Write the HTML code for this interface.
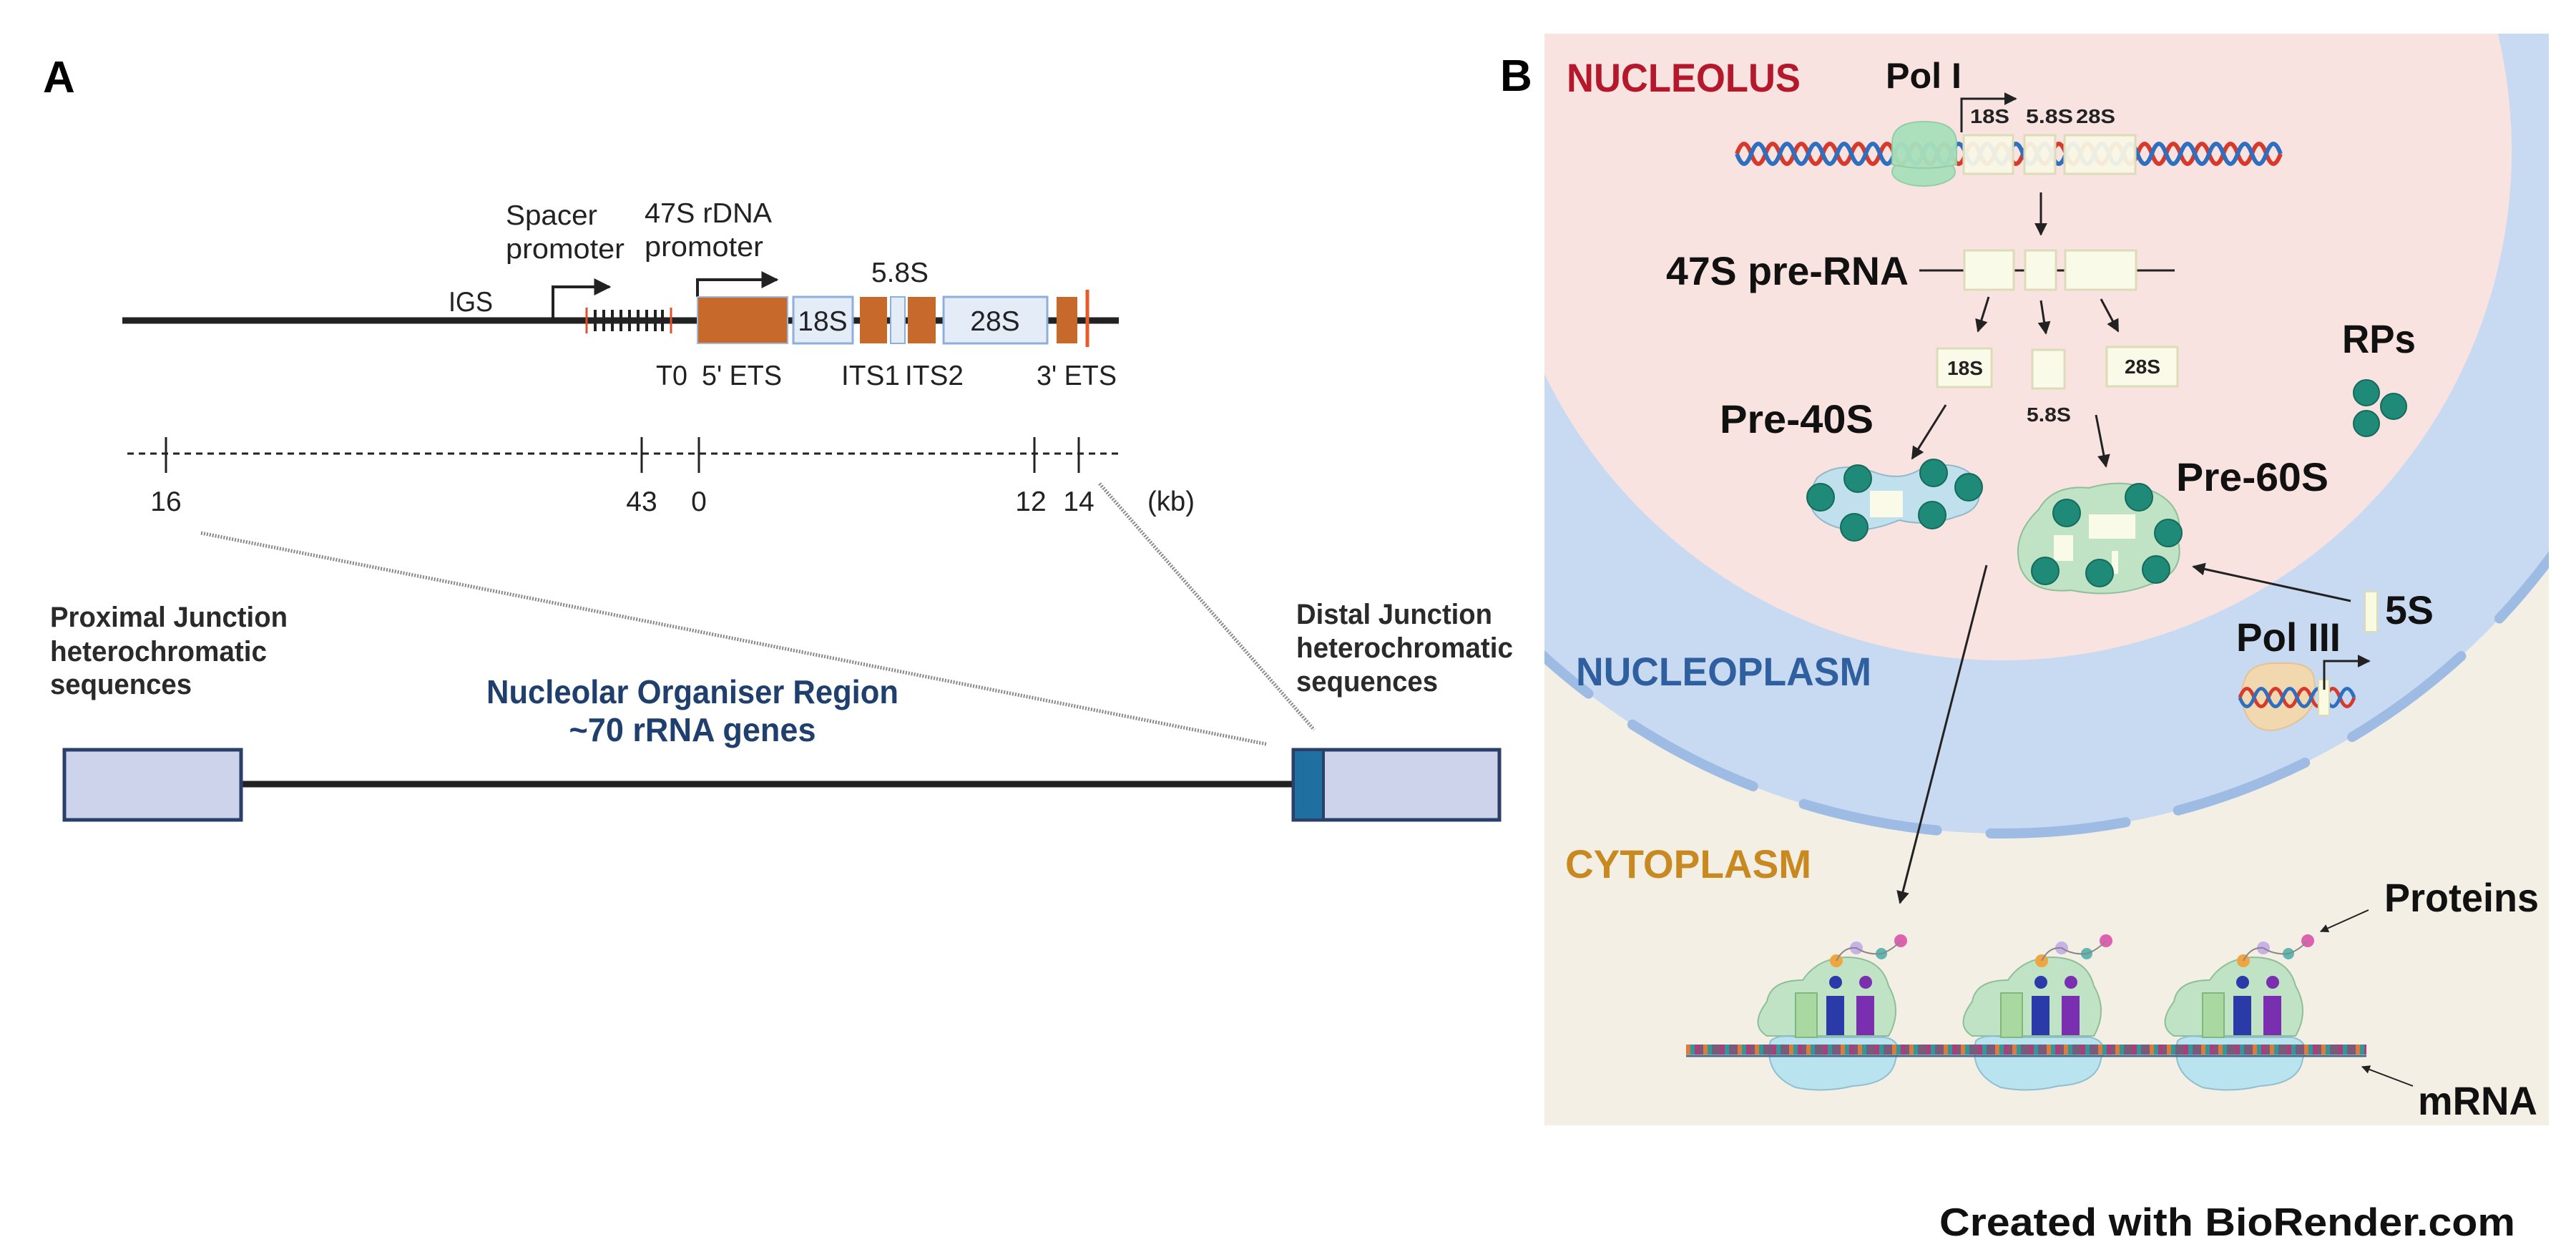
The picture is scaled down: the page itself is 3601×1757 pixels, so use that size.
<!DOCTYPE html>
<html><head><meta charset="utf-8"><style>
html,body{margin:0;padding:0;background:#fff;}
svg{display:block;}
text{font-family:"Liberation Sans",sans-serif;}
</style></head><body>
<svg width="3601" height="1757" viewBox="0 0 3601 1757" xmlns="http://www.w3.org/2000/svg">
<defs>
<marker id="ah" viewBox="0 0 10 10" refX="9" refY="5" markerWidth="6" markerHeight="6" orient="auto"><path d="M0,0 L10,5 L0,10 z" fill="#222"/></marker>
<clipPath id="pb"><rect x="2159" y="47" width="1404" height="1526"/></clipPath>
</defs>
<rect width="3601" height="1757" fill="#fff"/>

<!-- ============ PANEL A ============ -->
<text x="60" y="129" font-size="62" font-weight="bold">A</text>

<line x1="171" y1="448" x2="1564" y2="448" stroke="#222" stroke-width="9"/>
<g font-size="39" fill="#222" lengthAdjust="spacingAndGlyphs">
<text x="627" y="435" textLength="62" lengthAdjust="spacingAndGlyphs">IGS</text>
<text x="707" y="314" textLength="128" lengthAdjust="spacingAndGlyphs">Spacer</text>
<text x="707" y="361" textLength="166" lengthAdjust="spacingAndGlyphs">promoter</text>
<text x="901" y="311" textLength="178" lengthAdjust="spacingAndGlyphs">47S rDNA</text>
<text x="901" y="358" textLength="166" lengthAdjust="spacingAndGlyphs">promoter</text>
</g>
<path d="M773,448 V401 H852" fill="none" stroke="#222" stroke-width="4" marker-end="url(#ah)"/>
<g stroke="#222" stroke-width="4">
<line x1="832" y1="433" x2="832" y2="463"/><line x1="844" y1="433" x2="844" y2="463"/><line x1="856" y1="433" x2="856" y2="463"/><line x1="868" y1="433" x2="868" y2="463"/><line x1="880" y1="433" x2="880" y2="463"/><line x1="892" y1="433" x2="892" y2="463"/><line x1="904" y1="433" x2="904" y2="463"/><line x1="916" y1="433" x2="916" y2="463"/><line x1="926" y1="433" x2="926" y2="463"/>
</g>
<line x1="820" y1="430" x2="820" y2="466" stroke="#e0502a" stroke-width="3"/>
<line x1="938" y1="430" x2="938" y2="466" stroke="#e0502a" stroke-width="3"/>
<path d="M975,415 V391 H1086" fill="none" stroke="#222" stroke-width="4" marker-end="url(#ah)"/>
<rect x="975" y="415" width="126" height="65" fill="#c8692c" stroke="#9fb7dc" stroke-width="2"/>
<rect x="1109" y="415" width="83" height="65" fill="#e4ecf8" stroke="#8eaedb" stroke-width="3"/>
<text x="1150" y="462" font-size="39" fill="#222" text-anchor="middle">18S</text>
<rect x="1202" y="415" width="38" height="65" fill="#c8692c"/>
<rect x="1245" y="415" width="20" height="65" fill="#e4ecf8" stroke="#8eaedb" stroke-width="2"/>
<rect x="1269" y="415" width="39" height="65" fill="#c8692c"/>
<rect x="1319" y="415" width="145" height="65" fill="#e4ecf8" stroke="#8eaedb" stroke-width="3"/>
<text x="1391" y="462" font-size="39" fill="#222" text-anchor="middle">28S</text>
<rect x="1477" y="415" width="29" height="65" fill="#c8692c"/>
<line x1="1520" y1="405" x2="1520" y2="485" stroke="#e85a2a" stroke-width="5"/>
<g font-size="39" fill="#222">
<text x="1218" y="394" textLength="80" lengthAdjust="spacingAndGlyphs">5.8S</text>
<text x="917" y="538" textLength="44" lengthAdjust="spacingAndGlyphs">T0</text>
<text x="981" y="538" textLength="112" lengthAdjust="spacingAndGlyphs">5' ETS</text>
<text x="1176" y="538" textLength="82" lengthAdjust="spacingAndGlyphs">ITS1</text>
<text x="1265" y="538" textLength="82" lengthAdjust="spacingAndGlyphs">ITS2</text>
<text x="1449" y="538" textLength="112" lengthAdjust="spacingAndGlyphs">3' ETS</text>
</g>
<line x1="178" y1="634" x2="1569" y2="634" stroke="#222" stroke-width="3" stroke-dasharray="9,7"/>
<g stroke="#222" stroke-width="3">
<line x1="232" y1="611" x2="232" y2="661"/><line x1="897" y1="611" x2="897" y2="661"/><line x1="977" y1="611" x2="977" y2="661"/><line x1="1446" y1="611" x2="1446" y2="661"/><line x1="1508" y1="611" x2="1508" y2="661"/>
</g>
<g font-size="39" fill="#222" text-anchor="middle">
<text x="232" y="714">16</text><text x="897" y="714">43</text><text x="977" y="714">0</text><text x="1441" y="714">12</text><text x="1508" y="714">14</text>
</g>
<text x="1604" y="714" font-size="39" fill="#222" textLength="66" lengthAdjust="spacingAndGlyphs">(kb)</text>
<line x1="281" y1="745" x2="1770" y2="1040" stroke="#888" stroke-width="5" stroke-dasharray="2,2"/>
<line x1="1537" y1="676" x2="1837" y2="1020" stroke="#888" stroke-width="5" stroke-dasharray="2,2"/>
<g font-size="40" font-weight="bold" fill="#2a2a2a">
<text x="70" y="876" textLength="332" lengthAdjust="spacingAndGlyphs">Proximal Junction</text>
<text x="70" y="924" textLength="303" lengthAdjust="spacingAndGlyphs">heterochromatic</text>
<text x="70" y="970" textLength="198" lengthAdjust="spacingAndGlyphs">sequences</text>
<text x="1812" y="872" textLength="274" lengthAdjust="spacingAndGlyphs">Distal Junction</text>
<text x="1812" y="919" textLength="303" lengthAdjust="spacingAndGlyphs">heterochromatic</text>
<text x="1812" y="966" textLength="198" lengthAdjust="spacingAndGlyphs">sequences</text>
</g>
<g font-size="46" font-weight="bold" fill="#1f3f6e" text-anchor="middle">
<text x="968" y="983" textLength="576" lengthAdjust="spacingAndGlyphs">Nucleolar Organiser Region</text>
<text x="968" y="1036" textLength="345" lengthAdjust="spacingAndGlyphs">~70 rRNA genes</text>
</g>
<line x1="337" y1="1096" x2="1808" y2="1096" stroke="#222" stroke-width="9"/>
<rect x="90" y="1048" width="247" height="98" fill="#cdd3ea" stroke="#2a3f6a" stroke-width="5"/>
<rect x="1808" y="1048" width="288" height="98" fill="#cdd3ea" stroke="#2a3f6a" stroke-width="5"/>
<rect x="1810" y="1050" width="40" height="94" fill="#1f6fa0"/>
<line x1="1850" y1="1048" x2="1850" y2="1146" stroke="#2a3f6a" stroke-width="4"/>

<!-- ============ PANEL B ============ -->
<text x="2097" y="127" font-size="62" font-weight="bold">B</text>
<g clip-path="url(#pb)">
<rect x="2159" y="47" width="1404" height="1526" fill="#f3efe4"/>
<circle cx="2799" cy="211" r="954" fill="#c8daf1"/>
<circle cx="2799" cy="211" r="954" fill="none" stroke="#9dbbe3" stroke-width="14" stroke-linecap="round" stroke-dasharray="190,75"/>
<circle cx="2799" cy="211" r="712" fill="#f8e3e0"/>
</g>
<text x="2190" y="128" font-size="56" font-weight="bold" fill="#b5172b" textLength="327" lengthAdjust="spacingAndGlyphs">NUCLEOLUS</text>
<text x="2203" y="958" font-size="56" font-weight="bold" fill="#2f5f9e" textLength="413" lengthAdjust="spacingAndGlyphs">NUCLEOPLASM</text>
<text x="2188" y="1227" font-size="56" font-weight="bold" fill="#c88a20" textLength="344" lengthAdjust="spacingAndGlyphs">CYTOPLASM</text>

<text x="2636" y="123" font-size="50" font-weight="bold" fill="#111" textLength="106" lengthAdjust="spacingAndGlyphs">Pol I</text>
<path d="M2428,215 q10,-28 20,0 t20,0 t20,0 t20,0 t20,0 t20,0 t20,0 t20,0 t20,0 t20,0 t20,0 t20,0 t20,0 t20,0 t20,0 t20,0 t20,0 t20,0 t20,0 t20,0 t20,0 t20,0 t20,0 t20,0 t20,0 t20,0 t20,0 t20,0 t20,0 t20,0 t20,0 t20,0 t20,0 t20,0 t20,0 t20,0 t20,0 t20,0" fill="none" stroke="#d63a2c" stroke-width="6"/>
<path d="M2428,215 q10,28 20,0 t20,0 t20,0 t20,0 t20,0 t20,0 t20,0 t20,0 t20,0 t20,0 t20,0 t20,0 t20,0 t20,0 t20,0 t20,0 t20,0 t20,0 t20,0 t20,0 t20,0 t20,0 t20,0 t20,0 t20,0 t20,0 t20,0 t20,0 t20,0 t20,0 t20,0 t20,0 t20,0 t20,0 t20,0 t20,0 t20,0 t20,0" fill="none" stroke="#2f6fc0" stroke-width="6"/>
<g fill="#f9f8e6" fill-opacity="0.93" stroke="#dcdcb8" stroke-width="3">
<rect x="2745" y="189" width="69" height="54"/><rect x="2830" y="189" width="43" height="54"/><rect x="2886" y="189" width="99" height="54"/>
</g>
<g fill="#a8e0bc" stroke="#8fcca4" stroke-width="2" opacity="0.95">
<ellipse cx="2689" cy="240" rx="44" ry="20"/>
<path d="M2645,200 q0,-30 45,-30 q45,0 45,30 v30 q-45,10 -90,0 z"/>
</g>
<path d="M2742,185 V138 H2818" fill="none" stroke="#222" stroke-width="3" marker-end="url(#ah)"/>
<g font-size="28" font-weight="bold" fill="#222">
<text x="2754" y="172" textLength="55" lengthAdjust="spacingAndGlyphs">18S</text><text x="2832" y="172" textLength="66" lengthAdjust="spacingAndGlyphs">5.8S</text><text x="2902" y="172" textLength="55" lengthAdjust="spacingAndGlyphs">28S</text>
</g>
<line x1="2853" y1="269" x2="2853" y2="328" stroke="#222" stroke-width="3" marker-end="url(#ah)"/>
<text x="2329" y="398" font-size="56" font-weight="bold" fill="#111" textLength="339" lengthAdjust="spacingAndGlyphs">47S pre-RNA</text>
<line x1="2683" y1="378" x2="3040" y2="378" stroke="#222" stroke-width="3"/>
<g fill="#fafae8" stroke="#dcdcb8" stroke-width="3">
<rect x="2746" y="350" width="69" height="55"/><rect x="2831" y="350" width="43" height="55"/><rect x="2887" y="350" width="99" height="55"/>
</g>
<g stroke="#222" stroke-width="3" marker-end="url(#ah)">
<line x1="2780" y1="415" x2="2765" y2="463"/>
<line x1="2853" y1="420" x2="2860" y2="466"/>
<line x1="2937" y1="418" x2="2961" y2="463"/>
</g>
<g fill="#fafae8" stroke="#dcdcb8" stroke-width="3">
<rect x="2708" y="487" width="76" height="54"/><rect x="2841" y="489" width="45" height="54"/><rect x="2945" y="485" width="99" height="55"/>
</g>
<g font-size="28" font-weight="bold" fill="#222">
<text x="2722" y="524" textLength="50" lengthAdjust="spacingAndGlyphs">18S</text><text x="2970" y="522" textLength="50" lengthAdjust="spacingAndGlyphs">28S</text><text x="2833" y="589" textLength="62" lengthAdjust="spacingAndGlyphs">5.8S</text>
</g>
<text x="3274" y="493" font-size="56" font-weight="bold" fill="#111" textLength="103" lengthAdjust="spacingAndGlyphs">RPs</text>
<g fill="#1f8a78" stroke="#156a5c" stroke-width="2">
<circle cx="3308" cy="549" r="18"/><circle cx="3346" cy="568" r="18"/><circle cx="3308" cy="592" r="18"/>
</g>
<text x="2404" y="605" font-size="56" font-weight="bold" fill="#111" textLength="215" lengthAdjust="spacingAndGlyphs">Pre-40S</text>
<line x1="2720" y1="566" x2="2673" y2="641" stroke="#222" stroke-width="3" marker-end="url(#ah)"/>
<path d="M2540,668 q30,-25 80,-8 q40,15 70,-8 q60,-10 75,25 q10,35 -30,45 q-40,15 -80,5 q-60,25 -100,5 q-40,-20 -15,-64 z" fill="#bfe0ec" stroke="#8fb8c8" stroke-width="2"/>
<rect x="2614" y="686" width="46" height="37" fill="#fafae8"/>
<g fill="#1f8a78" stroke="#156a5c" stroke-width="2">
<circle cx="2545" cy="695" r="19"/><circle cx="2597" cy="669" r="19"/><circle cx="2703" cy="661" r="19"/><circle cx="2752" cy="681" r="19"/><circle cx="2592" cy="737" r="19"/><circle cx="2701" cy="720" r="19"/>
</g>
<line x1="2930" y1="580" x2="2944" y2="652" stroke="#222" stroke-width="3" marker-end="url(#ah)"/>
<text x="3042" y="686" font-size="56" font-weight="bold" fill="#111" textLength="213" lengthAdjust="spacingAndGlyphs">Pre-60S</text>
<path d="M2850,712 q20,-35 70,-30 q50,-15 90,5 q45,20 35,70 q10,45 -40,60 q-50,20 -110,8 q-55,5 -70,-30 q-15,-45 25,-83 z" fill="#bfe3c4" stroke="#8fbf98" stroke-width="2"/>
<rect x="2920" y="719" width="65" height="34" fill="#fafae8"/>
<rect x="2871" y="748" width="27" height="36" fill="#fafae8"/>
<rect x="2952" y="770" width="9" height="32" fill="#fafae8"/>
<g fill="#1f8a78" stroke="#156a5c" stroke-width="2">
<circle cx="2889" cy="717" r="19"/><circle cx="2990" cy="695" r="19"/><circle cx="3031" cy="745" r="19"/><circle cx="3014" cy="796" r="19"/><circle cx="2935" cy="801" r="19"/><circle cx="2859" cy="798" r="19"/>
</g>
<line x1="3286" y1="840" x2="3066" y2="792" stroke="#222" stroke-width="3" marker-end="url(#ah)"/>
<rect x="3306" y="827" width="17" height="56" fill="#fafae0" stroke="#dcdcb0" stroke-width="2"/>
<text x="3334" y="872" font-size="56" font-weight="bold" fill="#111" textLength="68" lengthAdjust="spacingAndGlyphs">5S</text>
<text x="3126" y="910" font-size="56" font-weight="bold" fill="#111" textLength="146" lengthAdjust="spacingAndGlyphs">Pol III</text>
<path d="M3140,945 q10,-20 50,-18 q45,-2 45,25 q8,40 -30,60 q-40,20 -60,-5 q-20,-30 -5,-62 z" fill="#f6d8a8" stroke="#e8c08a" stroke-width="2" opacity="0.9"/>
<path d="M3131,975 q10,-25 20,0 t20,0 t20,0 t20,0 t20,0 t20,0 t20,0 t20,0" fill="none" stroke="#d63a2c" stroke-width="5"/>
<path d="M3131,975 q10,25 20,0 t20,0 t20,0 t20,0 t20,0 t20,0 t20,0 t20,0" fill="none" stroke="#2f6fc0" stroke-width="5"/>
<rect x="3241" y="950" width="15" height="50" fill="#fafae0" stroke="#dcdcb0" stroke-width="2"/>
<path d="M3249,964 V924 H3312" fill="none" stroke="#222" stroke-width="3" marker-end="url(#ah)"/>
<line x1="2777" y1="790" x2="2656" y2="1262" stroke="#222" stroke-width="3" marker-end="url(#ah)"/>

<g id="rib">
<path d="M2470,1400 q5,-30 50,-30 q20,-30 60,-32 q50,0 60,40 q20,35 0,70 l-170,0 q-25,-15 0,-48 z" fill="#bfe3c4" stroke="#8fbf98" stroke-width="2"/>
<path d="M2475,1455 q10,-10 40,-5 l120,0 q25,5 15,30 q-5,35 -60,38 q-40,10 -80,2 q-45,-20 -35,-65 z" fill="#b9e3ef" stroke="#8fbfd0" stroke-width="2"/>
<rect x="2510" y="1388" width="30" height="62" fill="#a9d8a0" stroke="#7fb87a" stroke-width="2"/>
<rect x="2553" y="1392" width="25" height="55" fill="#2a3aa8"/>
<rect x="2595" y="1392" width="25" height="55" fill="#7a2fb0"/>
<circle cx="2566" cy="1373" r="9" fill="#2a3aa8"/>
<circle cx="2608" cy="1373" r="9" fill="#7a2fb0"/>
<circle cx="2567" cy="1343" r="9" fill="#f0a640"/>
<circle cx="2595" cy="1325" r="9" fill="#c8b0e8"/>
<circle cx="2630" cy="1333" r="8" fill="#5fb8b0"/>
<circle cx="2657" cy="1315" r="9" fill="#e060b0"/>
<path d="M2567,1343 q10,-20 28,-18 q15,10 35,8 q15,-5 27,-18" fill="none" stroke="#888" stroke-width="2"/>
</g>
<use href="#rib" transform="translate(287,0)"/>
<use href="#rib" transform="translate(569,0)"/>
<line x1="2357" y1="1467" x2="3308" y2="1467" stroke="#7a5a7a" stroke-width="14"/>
<line x1="2357" y1="1467" x2="3308" y2="1467" stroke="#e07a3a" stroke-width="14" stroke-dasharray="6,18"/>
<line x1="2363" y1="1467" x2="3308" y2="1467" stroke="#2a9a9a" stroke-width="14" stroke-dasharray="6,18"/>
<line x1="2369" y1="1467" x2="3308" y2="1467" stroke="#b03a7a" stroke-width="14" stroke-dasharray="6,30"/>
<line x1="2357" y1="1476" x2="3308" y2="1476" stroke="#4a6a8a" stroke-width="3"/>

<text x="3333" y="1274" font-size="56" font-weight="bold" fill="#111" textLength="216" lengthAdjust="spacingAndGlyphs">Proteins</text>
<line x1="3311" y1="1272" x2="3244" y2="1302" stroke="#222" stroke-width="2" marker-end="url(#ah)"/>
<text x="3380" y="1558" font-size="56" font-weight="bold" fill="#111" textLength="167" lengthAdjust="spacingAndGlyphs">mRNA</text>
<line x1="3373" y1="1518" x2="3302" y2="1491" stroke="#222" stroke-width="2" marker-end="url(#ah)"/>

<text x="2711" y="1727" font-size="55" font-weight="bold" fill="#111" textLength="805" lengthAdjust="spacingAndGlyphs">Created with BioRender.com</text>
</svg>
</body></html>
